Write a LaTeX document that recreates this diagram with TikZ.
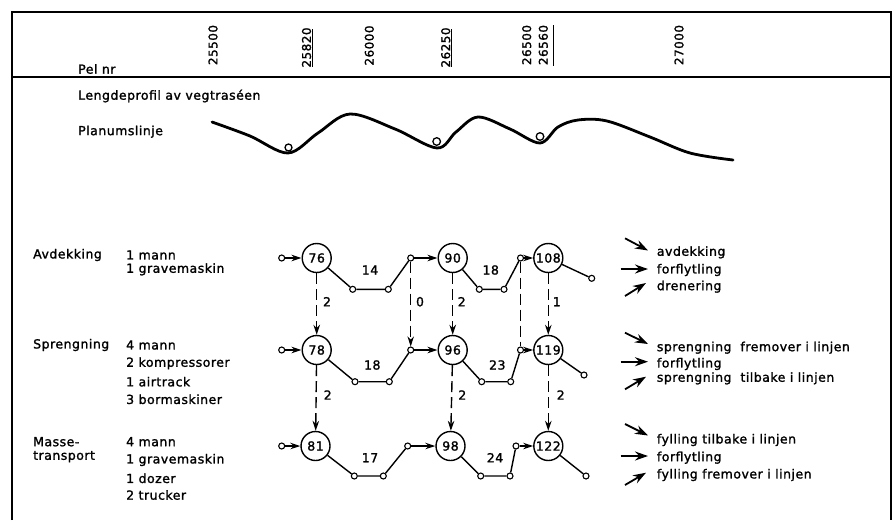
\documentclass[tikz,border=0pt]{standalone}
\usepackage{fontspec}
\setmainfont{DejaVu Sans}[LetterSpace=4,FakeBold=1.5]
\usetikzlibrary{arrows.meta}
\begin{document}
\begin{tikzpicture}[x=1pt,y=-1pt,
  txt/.style={font=\fontsize{12.5}{14}\selectfont, inner sep=0pt, anchor=west},
  num/.style={circle, draw, line width=1.4pt, minimum size=29pt, inner sep=0pt, font=\fontsize{12.5}{14}\selectfont, fill=white},
  dot/.style={circle, draw, line width=1.1pt, minimum size=6pt, inner sep=0pt, fill=white},
  link/.style={line width=1.4pt},
  arr/.style={line width=1.4pt, -{Stealth[length=10pt,width=6.5pt]}},
  dsh/.style={line width=1.4pt, dash pattern=on 11pt off 5pt},
  lbl/.style={font=\fontsize{12.5}{14}\selectfont, inner sep=0pt},
  hdr/.style={font=\fontsize{12}{14}\selectfont, rotate=90, inner sep=0pt},
  leg/.style={line width=1.8pt, -{Stealth[length=13pt,width=9pt]}},
  frame/.style={line width=1.6pt},
]
\useasboundingbox (0,0) rectangle (893,520);
% frame
\draw[frame] (12,520) -- (12,12) -- (891,12) -- (891,520);
\draw[frame] (12,77) -- (891,77);
% header
\node[txt] (pel) at (78,69) {Pel nr};
\node[hdr] (h1) at (213,45) {25500};
\node[hdr] (h2) at (306.5,47.5) {25820};
\node[hdr] (h3) at (369.3,45.5) {26000};
\node[hdr] (h4) at (445.7,47.5) {26250};
\node[hdr] (h5) at (526.7,45) {26500};
\node[hdr] (h6) at (543.3,45) {26560};
\node[hdr] (h7) at (679,45) {27000};
\draw[line width=1.2pt] (312.3,29) -- (312.3,67);
\draw[line width=1.2pt] (451.7,29) -- (451.7,67);
\draw[line width=1.2pt] (553.3,25) -- (553.3,66);
% profile
\node[txt] (lp) at (78,96) {Lengdeprofil av vegtraséen};
\node[txt] (pl) at (78,131.7) {Planumslinje};
\draw[line width=2.8pt, line cap=round, line join=round] plot[smooth, tension=0.55] coordinates {
 (212,122) (250,136) (288,153) (318,133) (350,114) (395,129) (437,148) (456,132)
 (478,117) (510,129) (540,143) (558,127) (578,120) (607,121) (650,137) (690,153) (733,160)};
\draw[line width=1.3pt, fill=white] (288.5,147.5) circle (3.5pt);
\draw[line width=1.3pt, fill=white] (436.7,141.5) circle (3.8pt);
\draw[line width=1.3pt, fill=white] (540,136.5) circle (3.8pt);
% left texts
\node[txt] (t1) at (33,255) {Avdekking};
\node[txt] (t1a) at (126,255) {1 mann};
\node[txt] (t1b) at (126,269.3) {1 gravemaskin};
\node[txt] (t2) at (33,345) {Sprengning};
\node[txt] (t2a) at (126,345) {4 mann};
\node[txt] (t2b) at (126,363.3) {2 kompressorer};
\node[txt] (t2c) at (126,381.7) {1 airtrack};
\node[txt] (t2d) at (126,399.3) {3 bormaskiner};
\node[txt] (t3) at (33,441.7) {Masse-};
\node[txt] (t3x) at (33,456.7) {transport};
\node[txt] (t3a) at (126,441.7) {4 mann};
\node[txt] (t3b) at (126,460) {1 gravemaskin};
\node[txt] (t3c) at (126,478.3) {1 dozer};
\node[txt] (t3d) at (126,495) {2 trucker};
% network row 1
\node[num] (n76) at (316.7,258) {76};
\node[num] (n90) at (452.7,258) {90};
\node[num] (n108) at (548.3,258) {108};
\node[dot] (s1) at (281.7,258) {};
\node[dot] (a1) at (352.7,289.3) {};
\node[dot] (a2) at (388.3,289.3) {};
\node[dot] (j1) at (410.7,258) {};
\node[dot] (b1) at (479.3,289.3) {};
\node[dot] (b2) at (504,289.3) {};
\node[dot] (j2) at (520.5,258) {};
\node[dot] (e1) at (591.7,278.3) {};
% row 2
\node[num] (n78) at (316.7,350) {78};
\node[num] (n96) at (452.7,350) {96};
\node[num] (n119) at (548.3,350) {119};
\node[dot] (s2) at (281.7,350) {};
\node[dot] (c1) at (355,381.7) {};
\node[dot] (c2) at (389.3,381.7) {};
\node[dot] (j3) at (410.7,350) {};
\node[dot] (d1) at (481.7,381.7) {};
\node[dot] (d2) at (510.7,381.7) {};
\node[dot] (j4) at (520.5,350) {};
\node[dot] (e2) at (584,375) {};
% row 3
\node[num] (n81) at (315.5,446) {81};
\node[num] (n98) at (450.5,446) {98};
\node[num] (n122) at (548.3,446) {122};
\node[dot] (s3) at (281.7,446) {};
\node[dot] (f1) at (354.3,476) {};
\node[dot] (f2) at (383.3,476) {};
\node[dot] (j5) at (407.7,446) {};
\node[dot] (g1) at (480.7,476) {};
\node[dot] (g2) at (510,476) {};
\node[dot] (j6) at (516,446) {};
\node[dot] (e3) at (586,476) {};
% solid links
\draw[arr] (s1) -- (n76);
\draw[link] (n76) -- (a1) -- (a2) -- (j1);
\draw[arr] (j1) -- (n90);
\draw[link] (n90) -- (b1) -- (b2) -- (j2);
\draw[arr] (j2) -- (n108);
\draw[link] (n108) -- (e1);
\draw[arr] (s2) -- (n78);
\draw[link] (n78) -- (c1) -- (c2) -- (j3);
\draw[arr] (j3) -- (n96);
\draw[link] (n96) -- (d1) -- (d2) -- (j4);
\draw[arr] (j4) -- (n119);
\draw[link] (n119) -- (e2);
\draw[arr] (s3) -- (n81);
\draw[link] (n81) -- (f1) -- (f2) -- (j5);
\draw[arr] (j5) -- (n98);
\draw[link] (n98) -- (g1) -- (g2) -- (j6);
\draw[arr] (j6) -- (n122);
\draw[link] (n122) -- (e3);
% dashed links
\draw[dsh, arr] (n76) -- (n78);
\draw[dsh, arr] (j1) -- (j3);
\draw[dsh, arr] (n90) -- (n96);
\draw[dsh] (j2.south) -- (j4.north);
\draw[dsh, arr] (n108) -- (n119);
\draw[dsh, arr] (n78) -- (n81);
\draw[dsh, arr] (n96) -- (n98);
\draw[dsh, arr] (n119) -- (n122);
% labels
\node[lbl] (l14) at (370,270) {14};
\node[lbl] (l18a) at (490.7,270) {18};
\node[lbl] (l2a) at (327,301.7) {2};
\node[lbl] (l0) at (420,301.7) {0};
\node[lbl] (l2b) at (461.7,301.7) {2};
\node[lbl] (l1) at (556.7,301.7) {1};
\node[lbl] (l18b) at (372.3,365) {18};
\node[lbl] (l23) at (497.3,365) {23};
\node[lbl] (l2c) at (327.7,395) {2};
\node[lbl] (l2d) at (462.3,395) {2};
\node[lbl] (l2e) at (560.7,395) {2};
\node[lbl] (l17) at (370,457.7) {17};
\node[lbl] (l24) at (495,457.7) {24};
% legends
\node[txt] (r1a) at (656.7,252.3) {avdekking};
\node[txt] (r1b) at (656.7,270) {forflytling};
\node[txt] (r1c) at (656.7,286.7) {drenering};
\draw[leg] (625,238.3) -- (648,250.5);
\draw[leg] (620.7,269) -- (648,269);
\draw[leg] (625,296) -- (646,283);
\node[txt] (r2a) at (656.7,347.7) {sprengning \ fremover i linjen};
\node[txt] (r2b) at (656.7,364) {forflytling};
\node[txt] (r2c) at (656.7,378.3) {sprengning \ tilbake i linjen};
\draw[leg] (625,332.7) -- (648,344);
\draw[leg] (620.7,361.7) -- (648,361.7);
\draw[leg] (625,389.3) -- (646,376.7);
\node[txt] (r3a) at (656.7,440) {fylling tilbake i linjen};
\node[txt] (r3b) at (656.7,457.7) {forflytling};
\node[txt] (r3c) at (656.7,475) {fylling fremover i linjen};
\draw[leg] (625,424) -- (648,435.5);
\draw[leg] (620.7,456) -- (648,456);
\draw[leg] (625,485) -- (646,472.7);
\end{tikzpicture}
\end{document}
